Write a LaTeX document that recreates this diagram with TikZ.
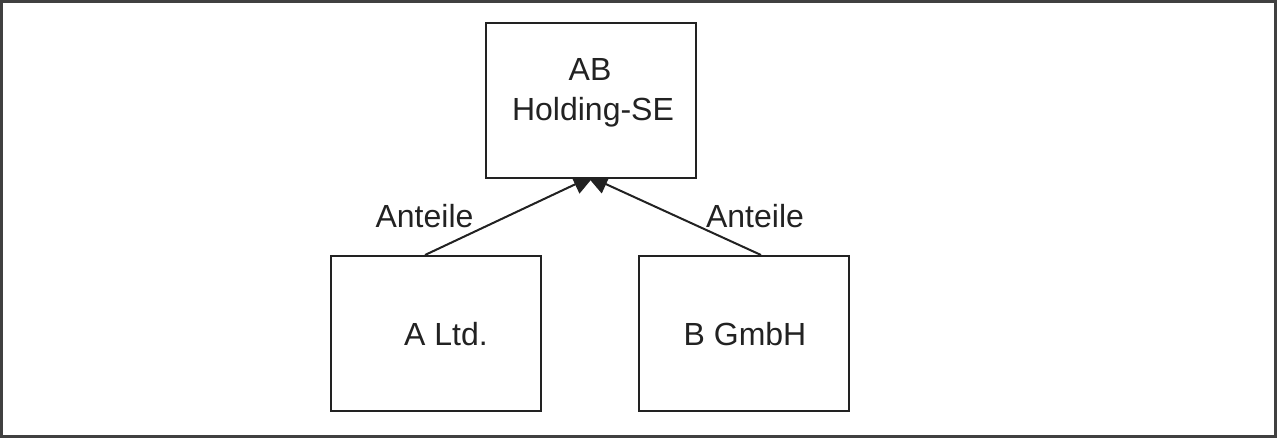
\documentclass[tikz,border=0pt]{standalone}
\usepackage{fontspec}
\setmainfont{Liberation Sans}
\usetikzlibrary{arrows.meta}
\definecolor{ln}{HTML}{222222}
\definecolor{frm}{HTML}{404040}
\begin{document}
\begin{tikzpicture}[x=1pt,y=-1pt,
  box/.style={draw=ln,line width=2pt,fill=white,inner sep=0pt,minimum width=210pt,minimum height=155pt},
  lbl/.style={anchor=base,inner sep=0pt,text=ln,font=\fontsize{32}{40}\selectfont},
  conn/.style={draw=ln,line width=2pt,-{Triangle[length=22pt,width=20pt]}}]
\useasboundingbox (0,0) rectangle (1277,438);
\draw[frm,line width=3pt] (1.5,1.5) rectangle (1275.5,436);
% helper nodes for geometry
\node[box,draw=none,fill=none] (topg) at (590.5,100.5) {};
\node[box] (a) at (436,333.5) {};
\node[box] (b) at (744,333.5) {};
\coordinate (tl) at ([xshift=4.5pt,yshift=4pt]topg.south);
\coordinate (tr) at ([xshift=-4.5pt,yshift=4pt]topg.south);
\draw[conn] ([xshift=-11pt]a.north) -- (tl);
\draw[conn] ([xshift=17pt]b.north) -- (tr);
\node[box] (top) at (590.5,100.5) {};
\node[lbl] (t1) at (590,81) {AB};
\node[lbl] (t2) at (593,121) {Holding-SE};
\node[lbl] (ta) at (446,345) {A Ltd.};
\node[lbl] (tb) at (745,345) {B GmbH};
\node[lbl] (la) at (424.5,228) {Anteile};
\node[lbl] (lb) at (755,228) {Anteile};
\end{tikzpicture}
\end{document}
